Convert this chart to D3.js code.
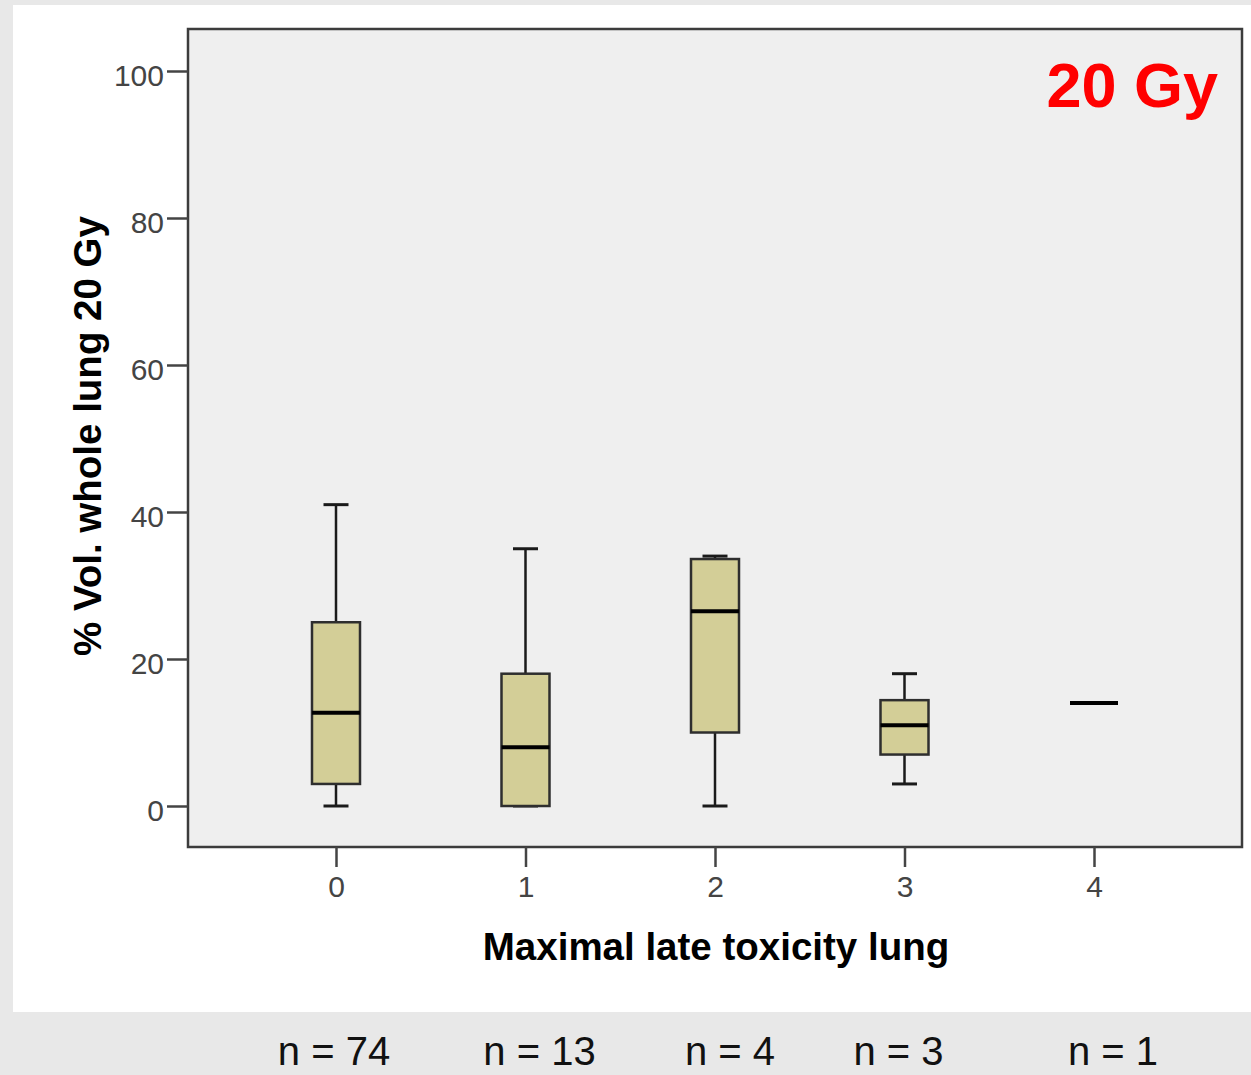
<!DOCTYPE html>
<html>
<head>
<meta charset="utf-8">
<script src="https://cdn.jsdelivr.net/npm/d3@7"></script>
<style>
  html, body { margin: 0; padding: 0; background: #e8e8e8; }
  svg { display: block; }
  text { font-family: "Liberation Sans", Arial, sans-serif; }
</style>
</head>
<body>
<svg id="chart" width="1251" height="1075"></svg>
<script>
// Toxicity grades on the x axis
const grades = ["0", "1", "2", "3", "4"];
// Box-plot summaries of % lung volume receiving 20 Gy, per grade
const whiskerLow  = [0, 0, 0, 3, 14];
const q1          = [3, 0, 10, 7, 14];
const median      = [12.7, 8, 26.5, 11, 14];
const q3          = [25, 18, 33.6, 14.4, 14];
const whiskerHigh = [41, 35, 34, 18, 14];
// Patients per grade
const counts = [74, 13, 4, 3, 1];
// Y axis tick values
const yTicks = [0, 20, 40, 60, 80, 100];

const svg = d3.select("#chart");

// Layout
const frame = { left: 188, top: 29, right: 1242, bottom: 847 };
const boxW = 48, capW = 25;
const nShift = [-2, 14, 15, -6, 19];

// White panel and grey band behind the counts
svg.append("rect").attr("x", 0).attr("y", 0).attr("width", 1251).attr("height", 1075).attr("fill", "#e8e8e8");
svg.append("rect").attr("x", 13).attr("y", 5).attr("width", 1238).attr("height", 1007).attr("fill", "#ffffff");

const x = d3.scalePoint().domain(grades).range([frame.left, frame.right]).padding(0.781);
const y = d3.scaleLinear().domain([0, 100]).range([806, 71]);

// Plot frame
svg.append("rect")
  .attr("x", frame.left).attr("y", frame.top)
  .attr("width", frame.right - frame.left).attr("height", frame.bottom - frame.top)
  .attr("fill", "#efefef").attr("stroke", "#3c3c3c").attr("stroke-width", 2.5);

// Y axis
const gy = svg.append("g").attr("transform", `translate(${frame.left},0)`)
  .call(d3.axisLeft(y).tickValues(yTicks).tickSize(21).tickPadding(3));
gy.select(".domain").remove();
gy.selectAll(".tick line").attr("stroke", "#444").attr("stroke-width", 2.5);
gy.selectAll(".tick text").attr("fill", "#444").attr("font-size", 30).attr("dy", "0.48em")
  .attr("font-family", "'Liberation Sans', Arial, sans-serif");

// X axis
const gx = svg.append("g").attr("transform", `translate(0,${frame.bottom})`)
  .call(d3.axisBottom(x).tickSize(20).tickPadding(9));
gx.select(".domain").remove();
gx.selectAll(".tick line").attr("stroke", "#444").attr("stroke-width", 2.5);
gx.selectAll(".tick text").attr("fill", "#444").attr("font-size", 30)
  .attr("font-family", "'Liberation Sans', Arial, sans-serif");

// Box plots
const rows = grades.map((g, i) => ({
  g, lo: whiskerLow[i], q1: q1[i], med: median[i], q3: q3[i], hi: whiskerHigh[i]
}));
const boxes = svg.append("g").selectAll("g").data(rows).join("g")
  .attr("transform", d => `translate(${x(d.g)},0)`);

const spread = d => d.hi > d.lo;

// whisker stems
boxes.filter(spread).append("line")
  .attr("x1", 0).attr("x2", 0).attr("y1", d => y(d.hi)).attr("y2", d => y(d.q3))
  .attr("stroke", "#1a1a1a").attr("stroke-width", 2.5);
boxes.filter(spread).append("line")
  .attr("x1", 0).attr("x2", 0).attr("y1", d => y(d.q1)).attr("y2", d => y(d.lo))
  .attr("stroke", "#1a1a1a").attr("stroke-width", 2.5);
// whisker caps
boxes.filter(spread).append("line")
  .attr("x1", -capW / 2).attr("x2", capW / 2).attr("y1", d => y(d.hi)).attr("y2", d => y(d.hi))
  .attr("stroke", "#1a1a1a").attr("stroke-width", 3);
boxes.filter(spread).append("line")
  .attr("x1", -capW / 2).attr("x2", capW / 2).attr("y1", d => y(d.lo)).attr("y2", d => y(d.lo))
  .attr("stroke", "#1a1a1a").attr("stroke-width", 3);
// interquartile box
boxes.filter(d => d.q3 > d.q1).append("rect")
  .attr("x", -boxW / 2).attr("width", boxW)
  .attr("y", d => y(d.q3)).attr("height", d => y(d.q1) - y(d.q3))
  .attr("fill", "#d3ce97").attr("stroke", "#2e2e2e").attr("stroke-width", 2.5);
// median
boxes.append("line")
  .attr("x1", -boxW / 2).attr("x2", boxW / 2).attr("y1", d => y(d.med)).attr("y2", d => y(d.med))
  .attr("stroke", "#000").attr("stroke-width", 4);

// Axis titles
svg.append("text")
  .attr("x", 716).attr("y", 960)
  .attr("text-anchor", "middle").attr("font-weight", "bold").attr("font-size", 38.5)
  .attr("fill", "#000").text("Maximal late toxicity lung");

svg.append("text")
  .attr("transform", `translate(101,436) rotate(-90)`)
  .attr("text-anchor", "middle").attr("font-weight", "bold").attr("font-size", 38.5)
  .attr("fill", "#000").text("% Vol. whole lung 20 Gy");

// Dose label
svg.append("text")
  .attr("x", 1218).attr("y", 107).attr("text-anchor", "end")
  .attr("font-weight", "bold").attr("font-size", 63).attr("fill", "#ff0000")
  .text("20 Gy");

// Patient counts
svg.append("g").selectAll("text").data(counts).join("text")
  .attr("x", (d, i) => x(grades[i]) + nShift[i]).attr("y", 1065)
  .attr("text-anchor", "middle").attr("font-size", 40).attr("fill", "#111")
  .text(d => `n = ${d}`);
</script>
</body>
</html>
